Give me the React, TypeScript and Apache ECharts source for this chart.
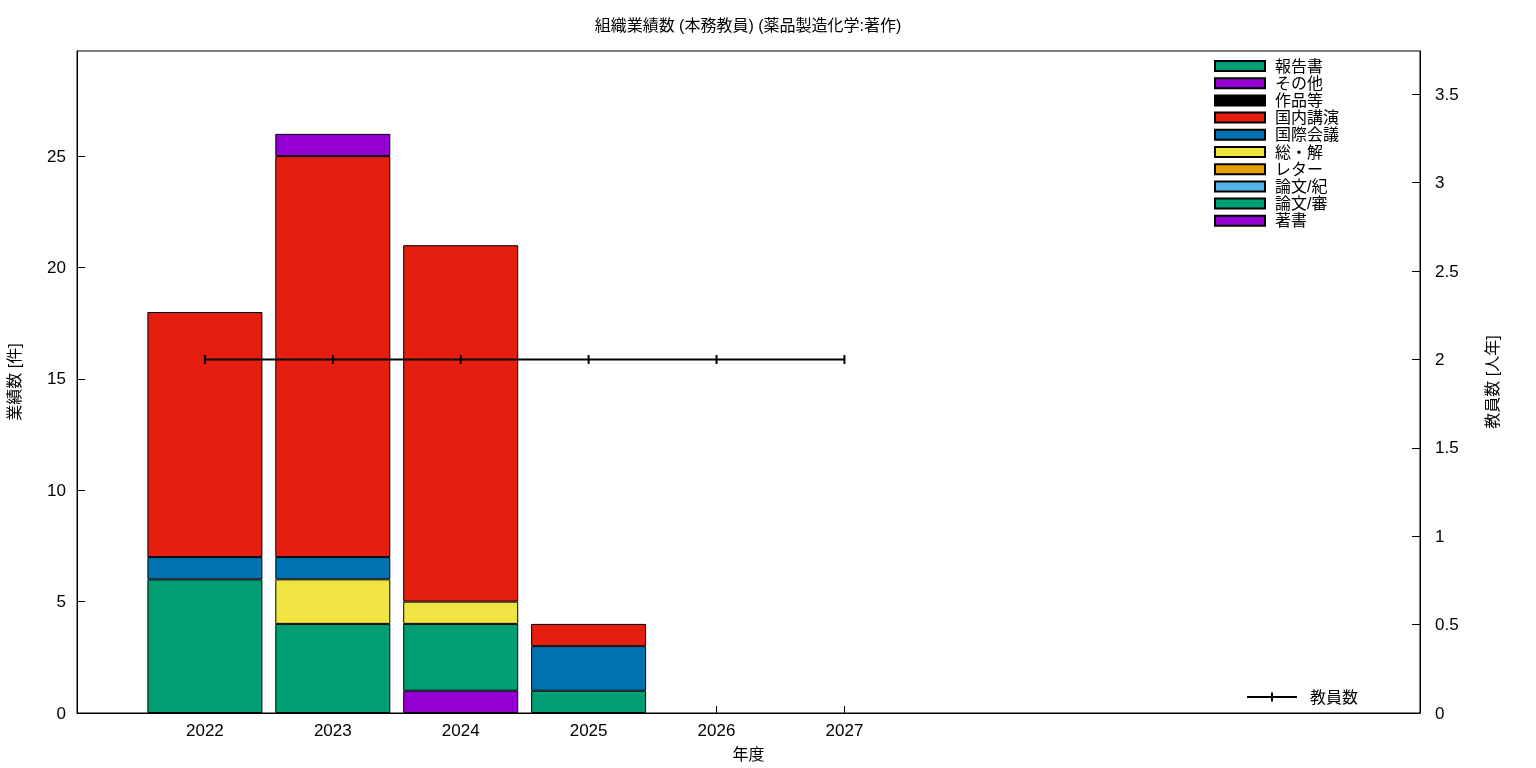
import React, { useEffect, useRef } from "react";
import * as echarts from "echarts";

const years = [2022, 2023, 2024, 2025];
const lineYears = [2022, 2023, 2024, 2025, 2026, 2027];
const staffCount = [2, 2, 2, 2, 2, 2];

// stack order bottom -> top
const seriesNames = ["著書", "論文/審", "論文/紀", "レター", "総・解", "国際会議", "国内講演", "作品等", "その他", "報告書"];
const seriesColors = ["#9400d3", "#009e73", "#56b4e9", "#e69f00", "#f0e442", "#0072b2", "#e51e10", "#000000", "#9400d3", "#009e73"];
const seriesValues: (number | null)[][] = [
  [null, null, 1, null],     // 著書
  [6, 4, 3, 1],              // 論文/審
  [null, null, null, null],  // 論文/紀
  [null, null, null, null],  // レター
  [null, 2, 1, null],        // 総・解
  [1, 1, null, 2],           // 国際会議
  [11, 18, 16, 1],           // 国内講演
  [null, null, null, null],  // 作品等
  [null, 1, null, null],     // その他
  [null, null, null, null],  // 報告書
];
const legendOrder = ["報告書", "その他", "作品等", "国内講演", "国際会議", "総・解", "レター", "論文/紀", "論文/審", "著書"];

const FONT = '"Liberation Sans", "Noto Sans CJK JP", sans-serif';

export default function App() {
  const ref = useRef<HTMLDivElement>(null);
  useEffect(() => {
    if (!ref.current) return;
    const chart = echarts.init(ref.current, null, { renderer: "svg" });
    const barSeries = seriesNames.map((name, i) => ({
      name,
      type: "bar",
      stack: "total",
      barWidth: 115,
      xAxisIndex: 0,
      yAxisIndex: 0,
      encode: { x: 1, y: 0 },
      itemStyle: { color: seriesColors[i], borderColor: "#000", borderWidth: 1 },
      data: years.map((y, j) => [seriesValues[i][j], y]),
    }));
    chart.setOption({
      animation: false,
      textStyle: { fontFamily: FONT, color: "#000" },
      graphic: [
        {
          type: "text",
          x: 748,
          y: 25,
          style: {
            text: "組織業績数 (本務教員) (薬品製造化学:著作)",
            textAlign: "center",
            textVerticalAlign: "middle",
            fontSize: 16,
            fontFamily: FONT,
            fill: "#000",
          },
        },
      ],
      grid: {
        left: 77, right: 116, top: 51, bottom: 55,
        outerBoundsMode: "none",
        containLabel: false,
        show: true, borderColor: "#000", borderWidth: 1, backgroundColor: "transparent",
      },
      legend: [
        {
          data: legendOrder,
          orient: "vertical",
          left: 1214,
          top: 57.5,
          padding: 0,
          icon: "rect",
          itemWidth: 50,
          itemHeight: 10,
          itemGap: 0.2,
          textStyle: { fontSize: 16, lineHeight: 17, fontFamily: FONT, color: "#000", padding: [0, 0, 0, 5] },
          selectedMode: false,
        },
        {
          data: [{ name: "教員数", icon: "path://M0,3.5 H24 V0 H26 V3.5 H50 V5.5 H26 V9 H24 V5.5 H0 Z" }],
          orient: "vertical",
          left: 1247,
          top: 688.5,
          padding: 0,
          itemWidth: 50,
          itemHeight: 9,
          textStyle: { fontSize: 16, lineHeight: 17, fontFamily: FONT, color: "#000", padding: [0, 0, 0, 8] },
          selectedMode: false,
        },
      ],
      xAxis: {
        type: "value",
        min: 2021,
        max: 2031.5,
        interval: 1,
        name: "年度",
        nameLocation: "middle",
        nameGap: 33,
        nameTextStyle: { fontSize: 16, fontFamily: FONT, color: "#000" },
        axisLine: { lineStyle: { color: "#000" } },
        axisTick: { inside: true, length: 7, lineStyle: { color: "#000" }, customValues: lineYears },
        axisLabel: { fontSize: 17, color: "#000", margin: 9, customValues: lineYears, formatter: (v: number) => String(v) },
        splitLine: { show: false },
      },
      yAxis: [
        {
          type: "value",
          min: 0,
          max: 29.72,
          interval: 5,
          name: "業績数 [件]",
          nameLocation: "middle",
          nameGap: 55,
          nameTextStyle: { fontSize: 16, fontFamily: FONT, color: "#000" },
          axisLine: { show: true, lineStyle: { color: "#000" } },
          axisTick: { show: true, inside: true, length: 8, lineStyle: { color: "#000" } },
          axisLabel: { fontSize: 17, color: "#000", margin: 11, showMaxLabel: false },
          splitLine: { show: false },
        },
        {
          type: "value",
          min: 0,
          max: 3.745,
          interval: 0.5,
          position: "right",
          name: "教員数 [人年]",
          nameLocation: "middle",
          nameGap: 64,
          nameTextStyle: { fontSize: 16, fontFamily: FONT, color: "#000" },
          axisLine: { show: true, lineStyle: { color: "#000" } },
          axisTick: { show: true, inside: true, length: 8, lineStyle: { color: "#000" } },
          axisLabel: { fontSize: 17, color: "#000", margin: 15, showMaxLabel: false },
          splitLine: { show: false },
        },
      ],
      series: [
        ...barSeries,
        {
          name: "教員数",
          type: "line",
          xAxisIndex: 0,
          yAxisIndex: 1,
          data: lineYears.map((y, j) => [y, staffCount[j]]),
          lineStyle: { color: "#000", width: 2 },
          itemStyle: { color: "#000" },
          symbol: "rect",
          symbolSize: [2, 9],
          showSymbol: true,
          z: 5,
        },
      ],
    });
    return () => chart.dispose();
  }, []);
  return <div ref={ref} style={{ position: "fixed", left: 0, top: 0, width: 1536, height: 768 }} />;
}
